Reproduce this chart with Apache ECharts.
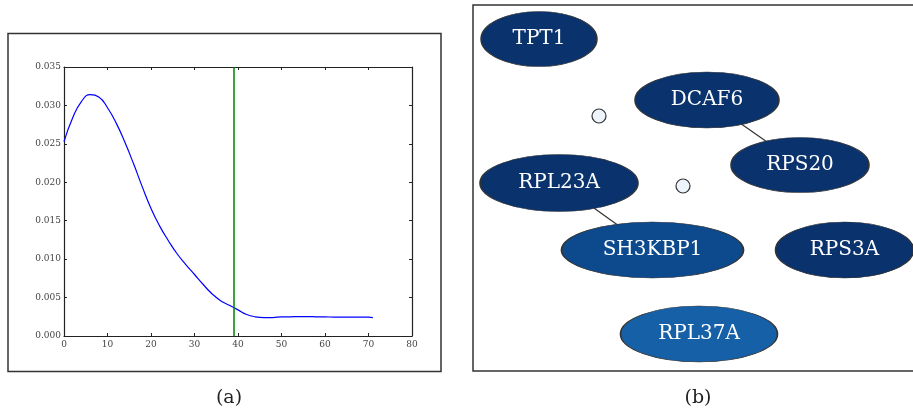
<!DOCTYPE html>
<html>
<head>
<meta charset="UTF-8">
<title>density and network</title>
<script src="https://cdn.jsdelivr.net/npm/echarts@6/dist/echarts.min.js"></script>
<style>
  body { margin: 0; background: #fff; }
  #main { width: 913px; height: 411px; }
</style>
</head>
<body>
<div id="main"></div>
<script>
// (a) density curve
const xs = [0, 2, 4, 6, 8, 10, 12, 14, 16, 18, 20, 22, 24, 26, 28, 30, 32, 34, 36,
            38, 40, 42, 44, 46, 48, 50, 52, 54, 56, 58, 60, 62, 64, 66, 68, 70, 71];
const density = [0.0253, 0.0284, 0.0305, 0.0314, 0.0311, 0.0297, 0.0277, 0.0252, 0.0224, 0.0194,
                 0.0166, 0.0143, 0.0124, 0.0107, 0.0093, 0.0080, 0.0067, 0.0055, 0.0046,
                 0.0040, 0.0034, 0.0028, 0.0025, 0.0024, 0.0024, 0.0025, 0.0025, 0.00252, 0.00252,
                 0.0025, 0.00248, 0.00246, 0.00245, 0.00245, 0.00246, 0.00245, 0.00238];
const cutoff = 39.1;

// (b) network
const genes = ['TPT1', 'DCAF6', 'RPS20', 'RPL23A', 'SH3KBP1', 'RPS3A', 'RPL37A', 'n1', 'n2'];
const level = [0, 0, 0, 0, 1, 0, 2, -1, -1];   // shade group, -1 = empty node
const links = [['DCAF6', 'RPS20'], ['RPL23A', 'SH3KBP1']];

// layout of the network drawing (kept apart from the data)
const nodePos = {
  TPT1: [66, 34], DCAF6: [234, 95], RPS20: [327, 160], RPL23A: [86, 178],
  SH3KBP1: [179.5, 245], RPS3A: [371.5, 245], RPL37A: [226, 329], n1: [126, 111], n2: [210, 181]
};
const nodeSize = {
  TPT1: [116, 55], DCAF6: [144, 56], RPS20: [138, 55], RPL23A: [158, 57],
  SH3KBP1: [182, 56], RPS3A: [138, 56], RPL37A: [157, 56], n1: [14, 14], n2: [14, 14]
};
const shades = ['#0a336e', '#0c4a8d', '#1660a8'];
const ellipse = 'path://M0,50 C0,22.4 22.4,0 50,0 C77.6,0 100,22.4 100,50 C100,77.6 77.6,100 50,100 C22.4,100 0,77.6 0,50 Z';

const serif = 'DejaVu Serif';
const chart = echarts.init(document.getElementById('main'), null, { renderer: 'canvas' });

const tickLbl = { fontFamily: serif, fontSize: 9, color: '#444' };
const inTick = { show: true, inside: true, length: 3, lineStyle: { color: '#222', width: 1 } };
const axLine = { show: true, onZero: false, lineStyle: { color: '#222', width: 1.2 } };

const nodes = genes.map((g, i) => {
  const empty = level[i] < 0;
  return {
    name: g,
    value: nodePos[g],
    symbol: empty ? 'circle' : ellipse,
    symbolSize: nodeSize[g],
    itemStyle: {
      color: empty ? '#eef4fb' : shades[level[i]],
      borderColor: '#333', borderWidth: empty ? 1.2 : 1
    },
    label: { show: !empty }
  };
});

const option = {
  animation: false,
  title: [
    { text: '(a)', left: 224, top: 384, textAlign: 'center',
      textStyle: { fontFamily: serif, fontSize: 19, fontWeight: 'normal', color: '#222' } },
    { text: '(b)', left: 693, top: 384, textAlign: 'center',
      textStyle: { fontFamily: serif, fontSize: 19, fontWeight: 'normal', color: '#222' } }
  ],
  graphic: [
    { type: 'rect', shape: { x: 8, y: 33.5, width: 433, height: 338 }, silent: true,
      style: { fill: null, stroke: '#333', lineWidth: 1.5 } },
    { type: 'rect', shape: { x: 473, y: 5, width: 450, height: 366 }, silent: true,
      style: { fill: null, stroke: '#333', lineWidth: 1.5 } }
  ],
  grid: [
    { left: 64, top: 67, width: 348, height: 269 },
    { left: 473, top: 5, width: 440, height: 366 }
  ],
  xAxis: [
    { type: 'value', gridIndex: 0, min: 0, max: 80, interval: 10, axisLine: axLine, axisTick: inTick,
      splitLine: { show: false }, axisLabel: Object.assign({ margin: 4 }, tickLbl) },
    { type: 'value', gridIndex: 0, position: 'top', min: 0, max: 80, interval: 10, axisLine: axLine,
      axisTick: inTick, splitLine: { show: false }, axisLabel: { show: false } },
    { type: 'value', gridIndex: 1, min: 0, max: 440, show: false }
  ],
  yAxis: [
    { type: 'value', gridIndex: 0, min: 0, max: 0.035, interval: 0.005, axisLine: axLine, axisTick: inTick,
      splitLine: { show: false },
      axisLabel: Object.assign({ margin: 3, formatter: v => v.toFixed(3) }, tickLbl) },
    { type: 'value', gridIndex: 0, position: 'right', min: 0, max: 0.035, interval: 0.005, axisLine: axLine,
      axisTick: inTick, splitLine: { show: false }, axisLabel: { show: false } },
    { type: 'value', gridIndex: 1, min: 0, max: 366, inverse: true, show: false }
  ],
  series: [
    {
      type: 'line', xAxisIndex: 0, yAxisIndex: 0,
      data: xs.map((x, i) => [x, density[i]]),
      smooth: 0.5, showSymbol: false,
      lineStyle: { color: '#0000ff', width: 1.2 },
      markLine: {
        silent: true, symbol: 'none', label: { show: false },
        lineStyle: { color: '#008000', width: 1.5, type: 'solid' },
        data: [{ xAxis: cutoff }]
      }
    },
    {
      type: 'graph', coordinateSystem: 'cartesian2d', xAxisIndex: 2, yAxisIndex: 2,
      layout: 'none',
      data: nodes,
      links: links.map(l => ({ source: l[0], target: l[1] })),
      lineStyle: { color: '#333', width: 1.2, opacity: 1, curveness: 0 },
      label: { position: 'inside', color: '#fff', fontFamily: serif, fontSize: 20 },
      emphasis: { disabled: true }
    }
  ]
};
chart.setOption(option);
</script>
</body>
</html>
